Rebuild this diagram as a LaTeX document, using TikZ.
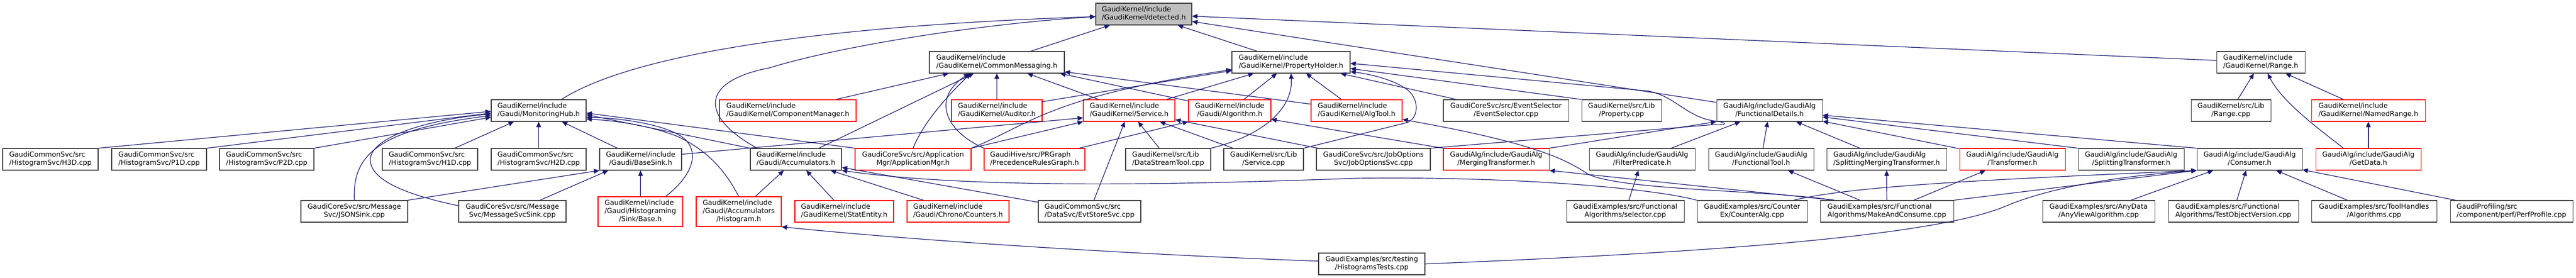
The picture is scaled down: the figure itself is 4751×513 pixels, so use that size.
\documentclass[tikz,border=0pt]{standalone}
\usepackage{fontspec}
\setmainfont{DejaVu Sans}
\usetikzlibrary{arrows.meta}
\definecolor{edgeblue}{HTML}{191970}
\definecolor{boxgrey}{HTML}{404040}
\definecolor{rootfill}{HTML}{BFBFBF}
\newcommand{\flbl}[2]{\begin{tabular}{@{}c@{}}\multicolumn{1}{@{}l@{}}{#1}\\#2\end{tabular}}
\tikzset{
  file/.style={draw=boxgrey, line width=0.8pt, fill=white, minimum height=30pt, inner sep=0pt,
    font=\fontsize{9.55}{11}\selectfont},
  trunc/.style={file, draw=red},
  root/.style={file, fill=rootfill},
  tall/.style={minimum height=41.25pt},
  inc/.style={draw=edgeblue, line width=0.9pt, -{Triangle[length=7.5pt,width=6.5pt]}},
}
\begin{document}
\begin{tikzpicture}[x=0.75pt, y=-0.75pt]
  \useasboundingbox (0,0) rectangle (4751,513);
  % rank 1 and 2
  \node[root, minimum width=132.75pt] (det) at (2109.5,26) {\flbl{GaudiKernel/include}{/GaudiKernel/detected.h}};
  \node[file, minimum width=186.75pt] (cmsg) at (1838.5,115) {\flbl{GaudiKernel/include}{/GaudiKernel/CommonMessaging.h}};
  \node[file, minimum width=163.5pt] (pholder) at (2381,115) {\flbl{GaudiKernel/include}{/GaudiKernel/PropertyHolder.h}};
  \node[file, minimum width=122.25pt] (rangeh) at (4169.5,115) {\flbl{GaudiKernel/include}{/GaudiKernel/Range.h}};
  % rank 3
  \node[file, minimum width=131.25pt] (mhub) at (993.5,204) {\flbl{GaudiKernel/include}{/Gaudi/MonitoringHub.h}};
  \node[trunc, minimum width=189pt] (compmgr) at (1453,204) {\flbl{GaudiKernel/include}{/GaudiKernel/ComponentManager.h}};
  \node[trunc, minimum width=125.25pt] (auditor) at (1838.5,204) {\flbl{GaudiKernel/include}{/GaudiKernel/Auditor.h}};
  \node[trunc, minimum width=126.75pt] (serviceh) at (2082.5,204) {\flbl{GaudiKernel/include}{/GaudiKernel/Service.h}};
  \node[trunc, minimum width=114pt] (algorithm) at (2268,204) {\flbl{GaudiKernel/include}{/Gaudi/Algorithm.h}};
  \node[trunc, minimum width=126pt] (algtool) at (2502,204) {\flbl{GaudiKernel/include}{/GaudiKernel/AlgTool.h}};
  \node[file, minimum width=173.25pt] (evtsel) at (2777.5,204) {\flbl{GaudiCoreSvc/src/EventSelector}{/EventSelector.cpp}};
  \node[file, minimum width=110.25pt] (propcpp) at (2990.5,204) {\flbl{GaudiKernel/src/Lib}{/Property.cpp}};
  \node[file, minimum width=146.25pt] (fdetails) at (3263.5,204) {\flbl{GaudiAlg/include/GaudiAlg}{/FunctionalDetails.h}};
  \node[file, minimum width=110.25pt] (rangecpp) at (4114.5,204) {\flbl{GaudiKernel/src/Lib}{/Range.cpp}};
  \node[trunc, minimum width=157.5pt] (namedrange) at (4368,204) {\flbl{GaudiKernel/include}{/GaudiKernel/NamedRange.h}};
  % rank 4
  \node[file, minimum width=132pt] (h3d) at (93,294) {\flbl{GaudiCommonSvc/src}{/HistogramSvc/H3D.cpp}};
  \node[file, minimum width=131.25pt] (p1d) at (293.5,294) {\flbl{GaudiCommonSvc/src}{/HistogramSvc/P1D.cpp}};
  \node[file, minimum width=130.5pt] (p2d) at (492,294) {\flbl{GaudiCommonSvc/src}{/HistogramSvc/P2D.cpp}};
  \node[file, minimum width=132pt] (h1d) at (793,294) {\flbl{GaudiCommonSvc/src}{/HistogramSvc/H1D.cpp}};
  \node[file, minimum width=131.25pt] (h2d) at (993.5,294) {\flbl{GaudiCommonSvc/src}{/HistogramSvc/H2D.cpp}};
  \node[file, minimum width=113.25pt] (basesink) at (1181.5,294) {\flbl{GaudiKernel/include}{/Gaudi/BaseSink.h}};
  \node[file, minimum width=126pt] (accum) at (1468,294) {\flbl{GaudiKernel/include}{/Gaudi/Accumulators.h}};
  \node[trunc, minimum width=160.5pt] (appmgr) at (1684,294) {\flbl{GaudiCoreSvc/src/Application}{Mgr/ApplicationMgr.h}};
  \node[trunc, minimum width=139.5pt] (prgraph) at (1908,294) {\flbl{GaudiHive/src/PRGraph}{/PrecedenceRulesGraph.h}};
  \node[file, minimum width=117.75pt] (dstool) at (2154.5,294) {\flbl{GaudiKernel/src/Lib}{/DataStreamTool.cpp}};
  \node[file, minimum width=110.25pt] (svccpp) at (2330.5,294) {\flbl{GaudiKernel/src/Lib}{/Service.cpp}};
  \node[file, minimum width=157.5pt] (josvc) at (2533,294) {\flbl{GaudiCoreSvc/src/JobOptions}{Svc/JobOptionsSvc.cpp}};
  \node[trunc, minimum width=146.25pt] (mergtr) at (2759.5,294) {\flbl{GaudiAlg/include/GaudiAlg}{/MergingTransformer.h}};
  \node[file, minimum width=146.25pt] (filterp) at (3028.5,294) {\flbl{GaudiAlg/include/GaudiAlg}{/FilterPredicate.h}};
  \node[file, minimum width=145.5pt] (ftool) at (3248,294) {\flbl{GaudiAlg/include/GaudiAlg}{/FunctionalTool.h}};
  \node[file, minimum width=165.75pt] (smtr) at (3479.5,294) {\flbl{GaudiAlg/include/GaudiAlg}{/SplittingMergingTransformer.h}};
  \node[trunc, minimum width=146.25pt] (transf) at (3711.5,294) {\flbl{GaudiAlg/include/GaudiAlg}{/Transformer.h}};
  \node[file, minimum width=146.25pt] (splittr) at (3930.5,294) {\flbl{GaudiAlg/include/GaudiAlg}{/SplittingTransformer.h}};
  \node[file, minimum width=145.5pt] (consumer) at (4149,294) {\flbl{GaudiAlg/include/GaudiAlg}{/Consumer.h}};
  \node[trunc, minimum width=145.5pt] (getdata) at (4368,294) {\flbl{GaudiAlg/include/GaudiAlg}{/GetData.h}};
  % rank 5 and 6
  \node[file, minimum width=147.75pt] (jsonsink) at (653.5,390) {\flbl{GaudiCoreSvc/src/Message}{Svc/JSONSink.cpp}};
  \node[file, minimum width=148.5pt] (msgsink) at (945,390) {\flbl{GaudiCoreSvc/src/Message}{Svc/MessageSvcSink.cpp}};
  \node[trunc, tall, minimum width=117pt] (sinkbase) at (1181,390.5) {\flbl{GaudiKernel/include}{/Gaudi/Histograming\\/Sink/Base.h}};
  \node[trunc, tall, minimum width=117.75pt] (acchist) at (1362.5,390.5) {\flbl{GaudiKernel/include}{/Gaudi/Accumulators\\/Histogram.h}};
  \node[trunc, minimum width=136.5pt] (statent) at (1557,390) {\flbl{GaudiKernel/include}{/GaudiKernel/StatEntity.h}};
  \node[trunc, minimum width=141pt] (counters) at (1767,390) {\flbl{GaudiKernel/include}{/Gaudi/Chrono/Counters.h}};
  \node[file, minimum width=141.75pt] (evtstore) at (2009.5,390) {\flbl{GaudiCommonSvc/src}{/DataSvc/EvtStoreSvc.cpp}};
  \node[file, minimum width=162.75pt] (selector) at (2997.5,390) {\flbl{GaudiExamples/src/Functional}{Algorithms/selector.cpp}};
  \node[file, minimum width=152.25pt] (counteralg) at (3231.5,390) {\flbl{GaudiExamples/src/Counter}{Ex/CounterAlg.cpp}};
  \node[file, minimum width=184.5pt] (makecons) at (3480,390) {\flbl{GaudiExamples/src/Functional}{Algorithms/MakeAndConsume.cpp}};
  \node[file, minimum width=155.25pt] (anyview) at (3870.5,390) {\flbl{GaudiExamples/src/AnyData}{/AnyViewAlgorithm.cpp}};
  \node[file, minimum width=180pt] (testobj) at (4119,390) {\flbl{GaudiExamples/src/Functional}{Algorithms/TestObjectVersion.cpp}};
  \node[file, minimum width=173.25pt] (toolhandles) at (4378.5,390) {\flbl{GaudiExamples/src/ToolHandles}{/Algorithms.cpp}};
  \node[file, minimum width=169.5pt] (perfprof) at (4632,390) {\flbl{GaudiProfiling/src}{/component/perf/PerfProfile.cpp}};
  \node[file, minimum width=147pt] (histtests) at (2530,487) {\flbl{GaudiExamples/src/testing}{/HistogramsTests.cpp}};
  % includes
  \begin{scope}[inc]
    \draw (mhub.26) .. controls (1150,110) and (1450,50) .. (det.183);
    \draw (accum.164) .. controls (1290,215) and (1290,150) .. (1420,125) .. controls (1550,85) and (1800,45) .. (det.183);
    \draw (cmsg) -- (det);
    \draw (pholder) -- (det);
    \draw (rangeh) -- (det);
    \draw (fdetails) -- (det);
    \draw (compmgr) -- (cmsg);
    \draw (accum) -- (cmsg);
    \draw (appmgr.north) .. controls (1705,220) and (1760,165) .. (cmsg.-157);
    \draw (prgraph.north west) .. controls (1740,240) and (1720,180) .. (cmsg.-158);
    \draw (auditor) -- (cmsg);
    \draw (serviceh) -- (cmsg);
    \draw (algorithm.167) -- (cmsg.-10.4);
    \draw (algtool.172) -- (cmsg.-8);
    \draw (auditor.11) -- (pholder.188);
    \draw (appmgr.north east) .. controls (1900,230) and (1930,180) .. (pholder.187);
    \draw (serviceh) -- (pholder);
    \draw (algorithm) -- (pholder);
    \draw (dstool.north east) .. controls (2330,250) and (2385,200) .. (pholder.south);
    \draw (algtool) -- (pholder);
    \draw (evtsel) -- (pholder);
    \draw (svccpp.north east) -- (2596,226) .. controls (2618,216) and (2618,180) .. (2592,163) .. controls (2570,148) and (2530,137) .. (pholder.-9);
    \draw (propcpp.north west) -- (pholder.-6);
    \draw (josvc.north east) -- (3160,230) .. controls (3185,232) and (3190,226) .. (3160,223) .. controls (3110,215) and (3090,178) .. (3040,168) -- (pholder.-1);
    \draw (basesink.7) -- (serviceh.189);
    \draw (appmgr.north east) -- (serviceh.south west);
    \draw (evtstore) -- (serviceh);
    \draw (dstool) -- (serviceh);
    \draw (svccpp) -- (serviceh);
    \draw (josvc) -- (serviceh);
    \draw (prgraph.14) -- (algorithm.south west);
    \draw (mergtr.north west) -- (algorithm.-12);
    \draw (makecons.168) .. controls (3250,350) and (3000,352) .. (2930,322) .. controls (2895,300) and (2850,267) .. (algtool.-11);
    \draw (makecons.168) -- (mergtr.south east);
    \draw (mergtr.north east) -- (fdetails.south west);
    \draw (filterp) -- (fdetails);
    \draw (ftool) -- (fdetails);
    \draw (smtr) -- (fdetails);
    \draw (transf) -- (fdetails);
    \draw (splittr.north west) -- (fdetails);
    \draw (consumer.north west) -- (fdetails);
    \draw (h3d.north east) -- (mhub.181);
    \draw (p1d.north east) -- (mhub.183);
    \draw (p2d.north east) -- (mhub.188);
    \draw (jsonsink.north) .. controls (650,290) and (690,240) .. (mhub.186);
    \draw (msgsink.174) .. controls (760,362) and (683,335) .. (683,295) .. controls (683,255) and (780,222) .. (mhub.184);
    \draw (h1d) -- (mhub);
    \draw (h2d) -- (mhub);
    \draw (basesink) -- (mhub);
    \draw (sinkbase.31) .. controls (1270,330) and (1290,290) .. (1268,262) .. controls (1245,232) and (1150,218) .. (mhub.-8);
    \draw (acchist.north) .. controls (1340,320) and (1310,280) .. (1250,252) .. controls (1190,228) and (1120,222) .. (mhub.-10);
    \draw (accum.north west) -- (mhub.-5);
    \draw (appmgr.north west) -- (mhub.-3);
    \draw (jsonsink.north east) -- (basesink.south west);
    \draw (msgsink.22) -- (basesink.199);
    \draw (sinkbase) -- (basesink);
    \draw (acchist) -- (accum);
    \draw (statent) -- (accum);
    \draw (counters) -- (accum);
    \draw (evtstore) -- (accum);
    \draw (counteralg.north west) .. controls (3050,348) and (2800,325) .. (2500,329) .. controls (2200,340) and (1800,350) .. (accum.south east);
    \draw (rangecpp) -- (rangeh);
    \draw (namedrange) -- (rangeh);
    \draw (getdata.156) .. controls (4280,240) and (4210,190) .. (rangeh.-58);
    \draw (getdata) -- (namedrange);
    \draw (counteralg.15) .. controls (3420,342) and (3700,330) .. (consumer.south west);
    \draw (makecons.north east) -- (consumer.south west);
    \draw (histtests.east) .. controls (3000,472) and (3550,445) .. (3700,380) .. controls (3800,338) and (3950,322) .. (consumer.south west);
    \draw (anyview.19) -- (consumer.197);
    \draw (testobj) -- (consumer);
    \draw (toolhandles) -- (consumer);
    \draw (perfprof) -- (consumer);
    \draw (makecons) -- (transf);
    \draw (makecons) -- (smtr);
    \draw (makecons) -- (ftool);
    \draw (selector) -- (filterp);
    \draw (histtests.177) .. controls (2100,470) and (1700,445) .. (acchist.south east);
  \end{scope}
\end{tikzpicture}
\end{document}
